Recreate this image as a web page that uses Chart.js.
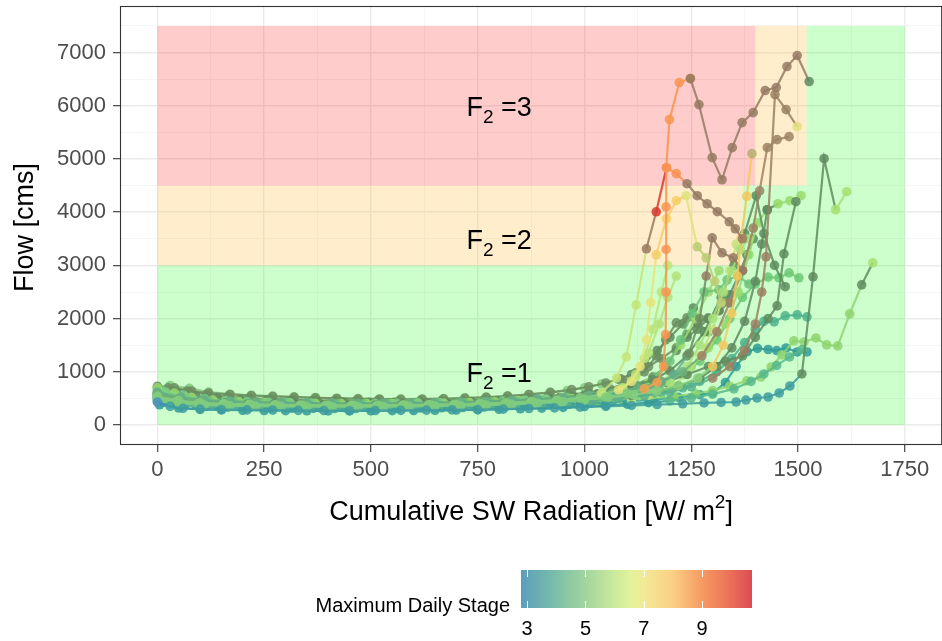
<!DOCTYPE html>
<html>
<head>
<meta charset="utf-8">
<script src="https://cdn.jsdelivr.net/npm/chart.js@4.4.1/dist/chart.umd.min.js"></script>
<style>
  html, body { margin: 0; padding: 0; background: #fff; overflow: hidden; }
  #wrap { width: 942px; height: 641px; overflow: hidden; }
</style>
</head>
<body>
<div id="wrap"><canvas id="flowChart" width="947" height="641"></canvas></div>
<script>
// ejes
var xMajor = [0, 250, 500, 750, 1000, 1250, 1500, 1750];
var xMinor = [125, 375, 625, 875, 1125, 1375, 1625];
var yMajor = [0, 1000, 2000, 3000, 4000, 5000, 6000, 7000];
var yMinor = [500, 1500, 2500, 3500, 4500, 5500, 6500, 7500];
var xRange = [-87.5, 1837.5];
var yRange = [-375, 7875];

// zonas F2: [x0, x1, y0, y1]
var zoneRed = [[0, 1400, 4500, 7500]];
var zoneOrange = [[0, 1370, 3000, 4500], [1400, 1520, 4500, 7500]];
var zoneGreen = [[0, 1750, 0, 3000], [1370, 1750, 3000, 4500], [1520, 1750, 4500, 7500]];
var zoneNames = ['3', '2', '1'];
var zoneNameY = [6000, 3500, 1000];
var zoneNameX = 800;

// escala de color (Maximum Daily Stage)
var stageTicks = [3, 5, 7, 9];
var stageRange = [2.79, 10.71];

// series: [radiacion acumulada, caudal]
var s01 = [[0,430],[30,350],[60,315],[100,300],[150,292],[210,285],[270,280],[330,275],[390,272],[450,270],[510,272],[570,275],[630,280],[690,285],[750,290],[810,300],[870,310],[930,322],[990,335],[1050,350],[1110,368],[1170,385],[1230,400],[1280,415],[1320,425],[1355,433],[1378,470],[1404,508],[1430,527],[1456,602],[1481,734],[1509,960],[1535,2785],[1561,5006],[1588,4046],[1614,4385]];
var s02 = [[0,560],[40,470],[80,420],[130,395],[190,380],[250,370],[310,362],[370,358],[430,355],[490,355],[550,358],[610,362],[670,368],[730,375],[790,385],[850,398],[910,412],[970,428],[1030,448],[1090,470],[1150,500],[1210,540],[1260,590],[1300,650],[1340,730],[1380,830],[1413,903],[1437,1092],[1462,1317],[1490,1581],[1514,1562],[1542,1637],[1567,1506],[1593,1487],[1621,2089],[1649,2635],[1675,3049]];
var s03 = [[0,520],[45,420],[90,375],[140,355],[200,342],[260,335],[320,330],[380,326],[440,324],[500,325],[560,328],[620,333],[680,340],[740,348],[800,358],[860,370],[920,384],[980,400],[1040,420],[1100,445],[1160,478],[1220,520],[1270,570],[1300,600],[1330,800],[1355,1100],[1381,1380],[1405,1440],[1430,1420],[1450,1400],[1472,1449],[1498,1374],[1521,1374]];
var s04 = [[0,610],[50,490],[100,430],[160,405],[220,392],[280,383],[340,377],[400,373],[460,372],[520,374],[580,378],[640,384],[700,392],[760,402],[820,415],[880,430],[940,448],[1000,470],[1060,500],[1120,545],[1180,610],[1230,700],[1270,820],[1310,1000],[1345,1250],[1375,1550],[1400,1800],[1420,1950],[1444,1939],[1470,2051],[1498,2070],[1521,2033]];
var s05 = [[0,650],[60,530],[110,465],[170,430],[230,410],[290,398],[350,390],[410,386],[470,385],[530,388],[590,394],[650,402],[710,412],[770,425],[830,442],[890,465],[950,495],[1010,535],[1070,590],[1130,670],[1180,780],[1230,950],[1270,1200],[1310,1600],[1340,2000],[1370,2400],[1400,2650],[1430,2780],[1455,2767],[1479,2860],[1502,2767]];
var s06 = [[0,700],[40,600],[80,520],[130,470],[190,440],[250,425],[310,415],[370,408],[430,404],[490,402],[550,404],[610,408],[670,415],[730,424],[790,436],[850,452],[910,472],[970,500],[1030,540],[1090,600],[1150,700],[1200,850],[1250,1100],[1290,1450],[1330,1900],[1360,2500],[1385,3200],[1405,3800],[1428,4046],[1453,4159],[1481,4216],[1507,4310]];
var s07 = [[0,620],[55,520],[110,470],[170,445],[230,432],[290,422],[350,415],[410,410],[470,408],[530,410],[590,415],[650,422],[710,432],[770,445],[830,462],[890,485],[950,515],[1010,555],[1070,610],[1130,690],[1190,800],[1240,950],[1290,1100],[1330,1200],[1370,1300],[1400,1650],[1430,2000],[1451,2240],[1467,3218],[1495,4197]];
var s08 = [[0,580],[50,480],[100,440],[160,420],[220,410],[280,402],[340,396],[400,392],[460,392],[520,395],[580,400],[640,408],[700,418],[760,432],[820,450],[880,475],[940,510],[1000,560],[1060,630],[1110,720],[1160,850],[1200,1020],[1240,1300],[1280,1750],[1320,2400],[1350,3000],[1375,3600],[1402,4310],[1420,3600],[1445,3000],[1470,2600]];
var s09 = [[0,540],[45,460],[95,420],[150,400],[210,388],[270,380],[330,374],[390,370],[450,368],[510,370],[570,374],[630,380],[690,388],[750,398],[810,410],[870,425],[930,445],[990,470],[1050,505],[1110,555],[1170,630],[1220,730],[1270,880],[1310,1100],[1345,1450],[1375,1950],[1400,2700],[1415,3400],[1428,4046]];
var s10 = [[0,730],[40,700],[80,640],[120,600],[170,575],[220,555],[270,540],[320,525],[370,512],[420,500],[470,492],[520,486],[570,484],[620,486],[670,493],[720,505],[770,522],[820,545],[870,575],[920,615],[970,665],[1010,720],[1050,790],[1085,870],[1120,980],[1150,1100],[1180,1250],[1215,1450],[1240,1700],[1264,1920],[1290,2014],[1315,2150],[1340,2300]];
var s11 = [[0,500],[50,430],[100,400],[160,385],[220,378],[280,372],[340,368],[400,366],[460,366],[520,368],[580,372],[640,378],[700,386],[760,396],[820,410],[880,428],[940,450],[1000,480],[1050,520],[1100,590],[1140,680],[1170,800],[1185,1100],[1190,1700],[1191,2500],[1191,3300],[1191,4100],[1192,4836],[1199,5740],[1222,6436],[1248,6511]];
var s12 = [[1248,6511],[1268,6022],[1299,5025],[1322,4610],[1346,5213],[1369,5684],[1395,5871],[1423,6286],[1449,6342],[1474,6737],[1498,6944],[1526,6455]];
var s13 = [[0,450],[55,400],[110,375],[170,362],[230,355],[290,350],[350,346],[410,344],[470,344],[530,346],[590,350],[650,356],[710,364],[770,375],[830,390],[890,410],[950,440],[1000,480],[1040,600],[1075,885],[1098,1280],[1121,2258],[1145,3312],[1168,4008],[1192,4836],[1215,4724],[1240,4535],[1264,4310],[1287,4159],[1311,4009],[1339,3820],[1353,3689],[1370,3500]];
var s14 = [[0,590],[50,500],[105,455],[165,432],[225,420],[285,410],[345,404],[405,400],[465,398],[525,400],[585,404],[645,410],[705,420],[765,432],[825,448],[885,470],[945,500],[1005,540],[1065,600],[1125,690],[1180,820],[1230,1000],[1275,1300],[1310,1750],[1340,2300],[1370,2900],[1395,3700],[1410,4400],[1428,5213],[1451,5364],[1479,5420]];
var s15 = [[0,470],[60,410],[120,385],[180,372],[240,364],[300,358],[360,354],[420,352],[480,352],[540,354],[600,358],[660,364],[720,372],[780,382],[840,395],[900,412],[960,434],[1020,462],[1080,500],[1140,550],[1200,620],[1250,720],[1300,880],[1340,1100],[1375,1400],[1400,1900],[1415,2500],[1425,3162],[1446,6210],[1472,5928],[1498,5608]];
var s16 = [[0,510],[45,440],[95,405],[155,388],[215,378],[275,371],[335,366],[395,363],[455,362],[515,364],[575,368],[635,374],[695,382],[755,392],[815,405],[875,422],[935,445],[995,475],[1055,515],[1115,570],[1170,640],[1220,740],[1265,880],[1300,1100],[1325,1500],[1345,2100],[1358,2800],[1367,3519],[1380,4300],[1392,5100]];
var s17 = [[0,545],[50,460],[100,420],[155,400],[215,388],[275,380],[335,374],[395,370],[455,369],[515,371],[575,375],[635,381],[695,390],[755,402],[815,418],[875,440],[935,470],[990,510],[1040,570],[1080,660],[1110,820],[1130,1100],[1145,1600],[1155,2300],[1168,3200],[1192,3876],[1215,4216],[1238,4310],[1264,3350],[1285,3143],[1305,2700],[1320,2300]];
var s18 = [[0,480],[50,415],[105,385],[165,370],[225,362],[285,356],[345,352],[405,350],[465,350],[525,352],[585,356],[645,362],[705,370],[765,380],[825,394],[885,412],[945,436],[1000,470],[1050,540],[1090,680],[1120,900],[1140,1250],[1160,1800],[1180,2500],[1195,3000]];
var s19 = [[0,505],[55,435],[110,400],[170,382],[230,372],[290,366],[350,362],[410,360],[470,360],[530,362],[590,366],[650,372],[710,380],[770,391],[830,405],[890,423],[950,446],[1010,476],[1070,515],[1120,560],[1160,620],[1200,800],[1240,1100],[1270,1500],[1300,2000],[1325,2500],[1345,2900],[1365,3300],[1385,3500]];
var s20 = [[0,600],[60,500],[120,450],[180,428],[240,416],[300,408],[360,402],[420,398],[480,396],[540,398],[600,402],[660,408],[720,416],[780,428],[840,444],[900,465],[960,495],[1020,540],[1080,610],[1130,720],[1170,900],[1200,1200],[1225,1600],[1252,2100],[1280,2500],[1315,2540],[1334,2729],[1360,2800],[1385,2650]];
var s21 = [[0,520],[55,440],[110,410],[170,393],[230,384],[290,377],[350,372],[410,369],[470,368],[530,370],[590,374],[650,380],[710,388],[770,398],[830,411],[890,428],[950,450],[1010,480],[1070,530],[1120,610],[1170,740],[1210,950],[1245,1350],[1270,2000],[1285,2800],[1299,3519],[1322,3237],[1348,3143],[1370,2900]];
var s22 = [[0,690],[45,610],[90,545],[140,505],[195,480],[255,462],[315,450],[375,440],[435,433],[495,428],[555,426],[615,428],[675,433],[735,442],[795,455],[855,474],[915,500],[975,535],[1030,585],[1080,660],[1120,760],[1160,900],[1190,1100],[1215,1400],[1240,1650],[1264,1800],[1290,2000],[1315,2150],[1340,2450],[1360,2800],[1380,3200],[1395,3500]];
var s23 = [[20,620],[65,540],[110,480],[160,450],[210,433],[260,422],[310,414],[360,408],[410,404],[460,402],[510,403],[560,406],[610,410],[660,416],[710,424],[760,434],[810,446],[860,462],[910,482],[960,506],[1010,536],[1050,570],[1090,700],[1120,950],[1150,1350],[1175,1900],[1195,2400],[1215,2800]];
var s24 = [[10,660],[60,570],[110,500],[160,462],[210,440],[260,428],[310,418],[360,411],[410,407],[460,405],[510,406],[560,409],[610,414],[660,420],[710,428],[760,438],[810,452],[860,468],[910,488],[960,512],[1010,540],[1060,575],[1100,620],[1150,800],[1190,1100],[1225,1500],[1260,2000],[1290,2500],[1315,2900]];
var s25 = [[25,700],[70,640],[115,575],[165,530],[215,505],[265,488],[315,476],[365,466],[415,458],[465,452],[515,449],[565,448],[615,450],[665,455],[715,463],[765,474],[815,490],[865,512],[915,540],[965,575],[1010,610],[1060,680],[1100,800],[1140,1000],[1168,1300],[1190,1600],[1215,1920],[1240,2014],[1264,1920],[1290,1750]];
var s26 = [[15,450],[65,380],[115,350],[165,335],[215,326],[265,320],[315,315],[365,312],[415,310],[465,310],[515,312],[565,315],[615,319],[665,324],[715,330],[765,338],[815,348],[865,360],[915,374],[965,390],[1015,410],[1065,435],[1110,470],[1150,560],[1200,700],[1240,950],[1270,1300],[1300,1800],[1320,2300],[1340,2900],[1355,3400]];
var s27 = [[5,380],[50,320],[100,295],[150,285],[200,278],[250,273],[300,270],[350,268],[400,267],[450,267],[500,268],[550,270],[600,273],[650,277],[700,282],[750,288],[800,296],[850,306],[900,318],[950,332],[1000,348],[1050,368],[1100,392],[1150,420],[1200,455],[1250,510],[1300,580],[1350,680],[1390,820],[1420,960],[1450,1120],[1480,1280],[1510,1420]];
var s28 = [[30,740],[75,690],[120,620],[170,580],[220,558],[270,542],[320,528],[370,515],[420,504],[470,496],[520,490],[570,488],[620,490],[670,497],[720,508],[770,524],[820,546],[870,574],[920,610],[960,650],[1000,700],[1040,770],[1080,860],[1110,950],[1140,1150],[1170,1400],[1200,1650],[1230,1900],[1255,2200]];

// colores por tramo: [indice inicial, color]; el orden es de abajo hacia arriba
var seriesStyle = [
  { pts: s28, runs: [[0, '#7CCB7A'], [22, '#5F8C5F']] },
  { pts: s10, runs: [[0, '#6F8E60']] },
  { pts: s25, runs: [[0, '#6A8E60']] },
  { pts: s22, runs: [[0, '#5F8C5F']] },
  { pts: s05, runs: [[0, '#6DC873']] },
  { pts: s04, runs: [[0, '#4DB38C']] },
  { pts: s24, runs: [[0, '#6CC28A'], [22, '#9ED870']] },
  { pts: s06, runs: [[0, '#96DA6C'], [28, '#5F8C5F'], [29, '#96DA6C']] },
  { pts: s03, runs: [[0, '#4A8CC0'], [1, '#2F9C98']] },
  { pts: s20, runs: [[0, '#6CC27A']] },
  { pts: s02, runs: [[0, '#8ED46E'], [35, '#5F8C5F'], [36, '#A6E06E']] },
  { pts: s27, runs: [[0, '#2F9A98'], [24, '#58B88A']] },
  { pts: s23, runs: [[0, '#7ACB84'], [21, '#B4E27A']] },
  { pts: s26, runs: [[0, '#3EA09A'], [22, '#C4E27C']] },
  { pts: s09, runs: [[0, '#5F8C5F']] },
  { pts: s08, runs: [[0, '#5F8C5F']] },
  { pts: s07, runs: [[0, '#62AE88'], [20, '#5F8C5F']] },
  { pts: s19, runs: [[0, '#7ECB86'], [21, '#A8E07A']] },
  { pts: s18, runs: [[0, '#84CE80'], [18, '#BCE47A']] },
  { pts: s14, runs: [[0, '#6FAE7A'], [22, '#9C8464']] },
  { pts: s15, runs: [[0, '#58B08C'], [22, '#9A8062'], [30, '#E2E07E']] },
  { pts: s21, runs: [[0, '#62AE88'], [22, '#6E8C5E'], [24, '#957A62']] },
  { pts: s16, runs: [[0, '#88D07C'], [23, '#F2C85E'], [29, '#B4AE72']] },
  { pts: s17, runs: [[0, '#84CE80'], [19, '#E6E47A'], [24, '#F6CC66'], [27, '#E2E27C'], [28, '#BACC72']] },
  { pts: s13, runs: [[0, '#7ECB86'], [18, '#C6E478'], [22, '#9A7A5E'], [23, '#D73A30'], [24, '#F79050'], [26, '#957A62']] },
  { pts: s11, runs: [[0, '#7FCB7A'], [20, '#F0A050'], [22, '#F89450']] },
  { pts: s12, runs: [[0, '#957A62'], [11, '#5F8C5F']] },
  { pts: s01, runs: [[0, '#4A8CC0'], [1, '#3E9C9E'], [31, '#5F8C5F'], [34, '#A6E06E']] }
];

var stageColors = [[2.79, '#5B9EBA'], [4, '#7CBFA8'], [5, '#A2D59E'], [6, '#CBEA9C'], [6.6, '#E4F29C'], [7, '#F3E996'], [8, '#FBCF86'], [9, '#F69A62'], [10, '#EB6E58'], [10.71, '#DA4C52']];

var FONT = "'Liberation Sans', Arial, sans-serif";

function rgba(hex, a) {
  var n = parseInt(hex.slice(1), 16);
  return 'rgba(' + (n >> 16) + ',' + ((n >> 8) & 255) + ',' + (n & 255) + ',' + a + ')';
}
function colorAt(runs, i) {
  var c = runs[0][1];
  for (var k = 0; k < runs.length; k++) if (i >= runs[k][0]) c = runs[k][1];
  return c;
}

var n = seriesStyle.length;
var datasets = seriesStyle.map(function (st, i) {
  return {
    data: st.pts.map(function (p) { return { x: p[0], y: p[1] }; }),
    showLine: true,
    borderWidth: 2.2,
    borderColor: rgba(st.runs[0][1], 0.85),
    segment: { borderColor: function (c) { return rgba(colorAt(st.runs, c.p0DataIndex), 0.85); } },
    pointRadius: 4.8,
    pointHoverRadius: 4.8,
    pointBorderWidth: 0,
    pointBackgroundColor: function (c) { return rgba(colorAt(st.runs, c.dataIndex), 0.85); },
    order: n - i
  };
});

// texto con subindice / superindice
function drawParts(ctx, cx, baseline, parts) {
  var total = 0;
  parts.forEach(function (p) { ctx.font = p.size + 'px ' + FONT; p.w = ctx.measureText(p.t).width; total += p.w; });
  var x = cx - total / 2;
  ctx.textAlign = 'left';
  ctx.textBaseline = 'alphabetic';
  parts.forEach(function (p) { ctx.font = p.size + 'px ' + FONT; ctx.fillText(p.t, x, baseline + p.dy); x += p.w; });
}

var decor = {
  id: 'decor',
  beforeDatasetsDraw: function (chart) {
    var ctx = chart.ctx, xs = chart.scales.x, ys = chart.scales.y, a = chart.chartArea;
    ctx.save();
    ctx.beginPath(); ctx.rect(a.left, a.top, a.right - a.left, a.bottom - a.top); ctx.clip();
    function fillZones(list, col) {
      ctx.fillStyle = col;
      list.forEach(function (r) {
        var x0 = xs.getPixelForValue(r[0]), x1 = xs.getPixelForValue(r[1]);
        var y0 = ys.getPixelForValue(r[2]), y1 = ys.getPixelForValue(r[3]);
        ctx.fillRect(x0, y1, x1 - x0, y0 - y1);
      });
    }
    fillZones(zoneRed, 'rgba(255,0,0,0.2)');
    fillZones(zoneOrange, 'rgba(255,165,0,0.2)');
    fillZones(zoneGreen, 'rgba(0,255,0,0.2)');
    ctx.restore();
  },
  afterDatasetsDraw: function (chart) {
    var ctx = chart.ctx, xs = chart.scales.x, ys = chart.scales.y;
    ctx.save();
    ctx.fillStyle = '#000';
    zoneNames.forEach(function (z, i) {
      var cx = xs.getPixelForValue(zoneNameX), cy = ys.getPixelForValue(zoneNameY[i]);
      drawParts(ctx, cx, cy + 10, [{ t: 'F', size: 27, dy: 0 }, { t: '2', size: 19, dy: 7 }, { t: ' =' + z, size: 27, dy: 0 }]);
    });
    ctx.restore();
  },
  afterDraw: function (chart) {
    var ctx = chart.ctx, a = chart.chartArea;
    ctx.save();
    // borde del panel
    ctx.strokeStyle = '#333333';
    ctx.lineWidth = 1.1;
    ctx.strokeRect(a.left + 0.5, a.top + 0.5, a.right - a.left - 1, a.bottom - a.top - 1);

    // titulos de ejes
    ctx.fillStyle = '#000';
    drawParts(ctx, (a.left + a.right) / 2, 520, [{ t: 'Cumulative SW Radiation [W/ m', size: 27, dy: 0 }, { t: '2', size: 19, dy: -12 }, { t: ']', size: 27, dy: 0 }]);
    ctx.save();
    ctx.translate(33, (a.top + a.bottom) / 2 + 2);
    ctx.rotate(-Math.PI / 2);
    ctx.font = '27px ' + FONT;
    ctx.textAlign = 'center';
    ctx.textBaseline = 'alphabetic';
    ctx.fillText('Flow [cms]', 0, 0);
    ctx.restore();

    // leyenda de color
    var bx0 = 521, bx1 = 752, by0 = 570, by1 = 608;
    function px(v) { return bx0 + (v - stageRange[0]) / (stageRange[1] - stageRange[0]) * (bx1 - bx0); }
    var g = ctx.createLinearGradient(bx0, 0, bx1, 0);
    stageColors.forEach(function (s) { g.addColorStop((s[0] - stageRange[0]) / (stageRange[1] - stageRange[0]), s[1]); });
    ctx.fillStyle = g;
    ctx.fillRect(bx0, by0, bx1 - bx0, by1 - by0);
    ctx.strokeStyle = '#fff';
    ctx.lineWidth = 1;
    stageTicks.forEach(function (v) {
      var x = Math.round(px(v)) + 0.5;
      ctx.beginPath(); ctx.moveTo(x, by0); ctx.lineTo(x, by0 + 7); ctx.moveTo(x, by1 - 7); ctx.lineTo(x, by1); ctx.stroke();
    });
    ctx.fillStyle = '#000';
    ctx.font = '20px ' + FONT;
    ctx.textAlign = 'center';
    ctx.textBaseline = 'alphabetic';
    stageTicks.forEach(function (v) { ctx.fillText(String(v), px(v), 635); });
    ctx.textAlign = 'right';
    ctx.fillText('Maximum Daily Stage', 510, 612);
    ctx.restore();
  }
};

function isIn(list, v) { return list.indexOf(v) >= 0; }
function noPad(s) { s.paddingTop = 0; s.paddingBottom = 0; s.paddingLeft = 0; s.paddingRight = 0; }

var chart = new Chart(document.getElementById('flowChart'), {
  type: 'scatter',
  data: { datasets: datasets },
  options: {
    responsive: false,
    animation: false,
    devicePixelRatio: 1,
    events: [],
    layout: { padding: { left: 0, right: 0, top: 6, bottom: 146 } },
    plugins: { legend: { display: false }, tooltip: { enabled: false } },
    scales: {
      x: {
        type: 'linear', min: xRange[0], max: xRange[1],
        afterBuildTicks: function (s) { s.ticks = xMajor.concat(xMinor).sort(function (a, b) { return a - b; }).map(function (v) { return { value: v }; }); },
        afterFit: function (s) { s.height = 50; noPad(s); },
        border: { display: false },
        grid: {
          color: function (c) { return isIn(xMajor, c.tick.value) ? '#EBEBEB' : '#F2F2F2'; },
          lineWidth: function (c) { return isIn(xMajor, c.tick.value) ? 1.4 : 0.8; },
          tickColor: function (c) { return isIn(xMajor, c.tick.value) ? '#333333' : 'rgba(0,0,0,0)'; },
          tickWidth: 1.1,
          tickLength: 7
        },
        ticks: {
          autoSkip: false, maxRotation: 0, padding: 5, color: '#4D4D4D',
          font: { family: FONT, size: 22 },
          callback: function (v) { return isIn(xMajor, v) ? String(v) : ''; }
        }
      },
      y: {
        type: 'linear', min: yRange[0], max: yRange[1],
        afterBuildTicks: function (s) { s.ticks = yMajor.concat(yMinor).sort(function (a, b) { return a - b; }).map(function (v) { return { value: v }; }); },
        afterFit: function (s) { s.width = 120; noPad(s); },
        border: { display: false },
        grid: {
          color: function (c) { return isIn(yMajor, c.tick.value) ? '#EBEBEB' : '#F2F2F2'; },
          lineWidth: function (c) { return isIn(yMajor, c.tick.value) ? 1.4 : 0.8; },
          tickColor: function (c) { return isIn(yMajor, c.tick.value) ? '#333333' : 'rgba(0,0,0,0)'; },
          tickWidth: 1.1,
          tickLength: 7
        },
        ticks: {
          autoSkip: false, padding: 7, color: '#4D4D4D',
          font: { family: FONT, size: 22 },
          callback: function (v) { return isIn(yMajor, v) ? String(v) : ''; }
        }
      }
    }
  },
  plugins: [decor]
});
</script>
</body>
</html>
